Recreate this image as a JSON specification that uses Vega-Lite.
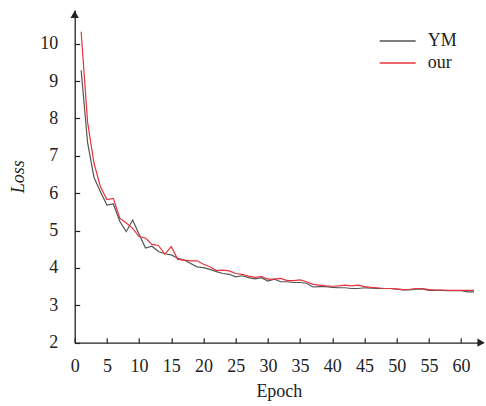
{
  "$schema": "https://vega.github.io/schema/vega-lite/v6.json",
  "autosize": {"type": "none"},
  "padding": {"left": 74.7, "top": 10, "right": 3, "bottom": 63},
  "width": 408.3,
  "height": 332.7,
  "background": "white",
  "config": {
    "view": {"stroke": null},
    "font": "Liberation Serif",
    "axis": {"grid": false, "domainColor": "#222", "domainWidth": 1.3, "tickColor": "#222", "tickWidth": 1.2, "labelFont": "Liberation Serif", "titleFont": "Liberation Serif", "labelColor": "#222", "titleColor": "#222", "labelFontSize": 18, "titleFontSize": 18, "titleFontWeight": "normal", "labelOverlap": false}
  },
  "datasets": {
    "loss": [
      {"epoch":1,"model":"YM","loss":9.29},{"epoch":2,"model":"YM","loss":7.35},{"epoch":3,"model":"YM","loss":6.42},{"epoch":4,"model":"YM","loss":6.04},{"epoch":5,"model":"YM","loss":5.68},{"epoch":6,"model":"YM","loss":5.71},{"epoch":7,"model":"YM","loss":5.25},{"epoch":8,"model":"YM","loss":4.97},{"epoch":9,"model":"YM","loss":5.28},{"epoch":10,"model":"YM","loss":4.90},
      {"epoch":11,"model":"YM","loss":4.53},{"epoch":12,"model":"YM","loss":4.58},{"epoch":13,"model":"YM","loss":4.44},{"epoch":14,"model":"YM","loss":4.38},{"epoch":15,"model":"YM","loss":4.35},{"epoch":16,"model":"YM","loss":4.26},{"epoch":17,"model":"YM","loss":4.21},{"epoch":18,"model":"YM","loss":4.12},{"epoch":19,"model":"YM","loss":4.03},{"epoch":20,"model":"YM","loss":4.01},
      {"epoch":21,"model":"YM","loss":3.96},{"epoch":22,"model":"YM","loss":3.90},{"epoch":23,"model":"YM","loss":3.85},{"epoch":24,"model":"YM","loss":3.83},{"epoch":25,"model":"YM","loss":3.76},{"epoch":26,"model":"YM","loss":3.79},{"epoch":27,"model":"YM","loss":3.74},{"epoch":28,"model":"YM","loss":3.71},{"epoch":29,"model":"YM","loss":3.74},{"epoch":30,"model":"YM","loss":3.65},
      {"epoch":31,"model":"YM","loss":3.70},{"epoch":32,"model":"YM","loss":3.63},{"epoch":33,"model":"YM","loss":3.63},{"epoch":34,"model":"YM","loss":3.61},{"epoch":35,"model":"YM","loss":3.61},{"epoch":36,"model":"YM","loss":3.59},{"epoch":37,"model":"YM","loss":3.49},{"epoch":38,"model":"YM","loss":3.50},{"epoch":39,"model":"YM","loss":3.50},{"epoch":40,"model":"YM","loss":3.48},
      {"epoch":41,"model":"YM","loss":3.47},{"epoch":42,"model":"YM","loss":3.47},{"epoch":43,"model":"YM","loss":3.45},{"epoch":44,"model":"YM","loss":3.45},{"epoch":45,"model":"YM","loss":3.47},{"epoch":46,"model":"YM","loss":3.46},{"epoch":47,"model":"YM","loss":3.45},{"epoch":48,"model":"YM","loss":3.45},{"epoch":49,"model":"YM","loss":3.45},{"epoch":50,"model":"YM","loss":3.43},
      {"epoch":51,"model":"YM","loss":3.41},{"epoch":52,"model":"YM","loss":3.41},{"epoch":53,"model":"YM","loss":3.43},{"epoch":54,"model":"YM","loss":3.44},{"epoch":55,"model":"YM","loss":3.40},{"epoch":56,"model":"YM","loss":3.40},{"epoch":57,"model":"YM","loss":3.40},{"epoch":58,"model":"YM","loss":3.39},{"epoch":59,"model":"YM","loss":3.39},{"epoch":60,"model":"YM","loss":3.39},
      {"epoch":61,"model":"YM","loss":3.36},{"epoch":62,"model":"YM","loss":3.36},
      {"epoch":1,"model":"our","loss":10.32},{"epoch":2,"model":"our","loss":7.9},{"epoch":3,"model":"our","loss":6.8},{"epoch":4,"model":"our","loss":6.17},{"epoch":5,"model":"our","loss":5.83},{"epoch":6,"model":"our","loss":5.86},{"epoch":7,"model":"our","loss":5.33},{"epoch":8,"model":"our","loss":5.2},{"epoch":9,"model":"our","loss":5.06},{"epoch":10,"model":"our","loss":4.84},
      {"epoch":11,"model":"our","loss":4.8},{"epoch":12,"model":"our","loss":4.63},{"epoch":13,"model":"our","loss":4.6},{"epoch":14,"model":"our","loss":4.37},{"epoch":15,"model":"our","loss":4.57},{"epoch":16,"model":"our","loss":4.23},{"epoch":17,"model":"our","loss":4.21},{"epoch":18,"model":"our","loss":4.19},{"epoch":19,"model":"our","loss":4.19},{"epoch":20,"model":"our","loss":4.10},
      {"epoch":21,"model":"our","loss":4.03},{"epoch":22,"model":"our","loss":3.93},{"epoch":23,"model":"our","loss":3.94},{"epoch":24,"model":"our","loss":3.92},{"epoch":25,"model":"our","loss":3.85},{"epoch":26,"model":"our","loss":3.83},{"epoch":27,"model":"our","loss":3.78},{"epoch":28,"model":"our","loss":3.75},{"epoch":29,"model":"our","loss":3.77},{"epoch":30,"model":"our","loss":3.70},
      {"epoch":31,"model":"our","loss":3.70},{"epoch":32,"model":"our","loss":3.72},{"epoch":33,"model":"our","loss":3.66},{"epoch":34,"model":"our","loss":3.66},{"epoch":35,"model":"our","loss":3.68},{"epoch":36,"model":"our","loss":3.63},{"epoch":37,"model":"our","loss":3.56},{"epoch":38,"model":"our","loss":3.54},{"epoch":39,"model":"our","loss":3.52},{"epoch":40,"model":"our","loss":3.51},
      {"epoch":41,"model":"our","loss":3.52},{"epoch":42,"model":"our","loss":3.54},{"epoch":43,"model":"our","loss":3.52},{"epoch":44,"model":"our","loss":3.54},{"epoch":45,"model":"our","loss":3.50},{"epoch":46,"model":"our","loss":3.48},{"epoch":47,"model":"our","loss":3.47},{"epoch":48,"model":"our","loss":3.45},{"epoch":49,"model":"our","loss":3.45},{"epoch":50,"model":"our","loss":3.44},
      {"epoch":51,"model":"our","loss":3.42},{"epoch":52,"model":"our","loss":3.43},{"epoch":53,"model":"our","loss":3.45},{"epoch":54,"model":"our","loss":3.45},{"epoch":55,"model":"our","loss":3.42},{"epoch":56,"model":"our","loss":3.41},{"epoch":57,"model":"our","loss":3.41},{"epoch":58,"model":"our","loss":3.40},{"epoch":59,"model":"our","loss":3.40},{"epoch":60,"model":"our","loss":3.40},
      {"epoch":61,"model":"our","loss":3.40},{"epoch":62,"model":"our","loss":3.40}
    ],
    "arrowUp": [{"epoch":0,"loss":10.78}],
    "arrowRight": [{"epoch":63.1,"loss":2}]
  },
  "encoding": {
    "x": {"field": "epoch", "type": "quantitative", "scale": {"domain": [0, 63.4], "nice": false, "zero": false},
          "axis": {"values": [0,5,10,15,20,25,30,35,40,45,50,55,60], "tickCount": 13, "tickSize": -5, "labelPadding": 20, "title": "Epoch", "titlePadding": 7, "labelFlush": false, "labelOverlap": false}},
    "y": {"field": "loss", "type": "quantitative", "scale": {"domain": [2, 10.9], "nice": false, "zero": false},
          "axis": {"values": [2,3,4,5,6,7,8,9,10], "tickSize": -5, "labelPadding": 22, "title": "Loss", "titleFontStyle": "italic", "titleFontSize": 18, "titlePadding": 12, "labelFlush": false}}
  },
  "layer": [
    {
      "data": {"name": "loss"},
      "mark": {"type": "line", "strokeWidth": 1.2},
      "encoding": {
        "color": {"field": "model", "type": "nominal", "sort": ["YM", "our"],
                  "scale": {"domain": ["YM", "our"], "range": ["#555555", "#e8323c"]},
                  "legend": {"title": null, "orient": "none", "legendX": 314, "legendY": 22, "symbolType": "M-3.6,0H3.6", "symbolSize": 100, "symbolStrokeWidth": 1.3, "labelFontSize": 18, "labelFont": "Liberation Serif", "labelColor": "#222", "rowPadding": 4, "labelOffset": 21, "padding": 0}}
      }
    },
    {
      "data": {"name": "arrowUp"},
      "mark": {"type": "point", "shape": "triangle-up", "filled": true, "color": "#222", "opacity": 1, "size": 70, "clip": false}
    },
    {
      "data": {"name": "arrowRight"},
      "mark": {"type": "point", "shape": "triangle-right", "filled": true, "color": "#222", "opacity": 1, "size": 70, "clip": false}
    }
  ]
}
